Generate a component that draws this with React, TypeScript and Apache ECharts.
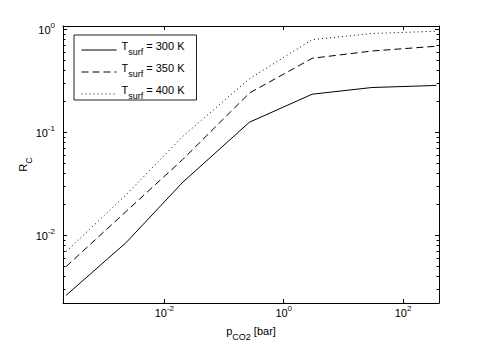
import React, { useEffect, useRef } from 'react';
import * as echarts from 'echarts';

// ---- data ----
const pressure = [2.25e-4, 2.3e-3, 0.0203, 0.266, 3.0, 30, 360];
const rc300 = [0.00262, 0.00857, 0.0329, 0.126, 0.236, 0.274, 0.287];
const rc350 = [0.00499, 0.0172, 0.0548, 0.242, 0.527, 0.62, 0.69];
const rc400 = [0.00697, 0.025, 0.0918, 0.333, 0.8, 0.917, 0.965];
const temperatures = ['300 K', '350 K', '400 K'];
const seriesNames = ['Tsurf = 300 K', 'Tsurf = 350 K', 'Tsurf = 400 K'];
const xRange = [2e-4, 400];
const yRange = [0.00221, 1.085];
const yMinorTicks = [
  0.003, 0.004, 0.005, 0.006, 0.007, 0.008, 0.009,
  0.02, 0.03, 0.04, 0.05, 0.06, 0.07, 0.08, 0.09,
  0.2, 0.3, 0.4, 0.5, 0.6, 0.7, 0.8, 0.9,
];

const FONT = '"Liberation Sans", Arial, Helvetica, sans-serif';

const supRich = {
  b: { fontSize: 11, lineHeight: 12, fontFamily: FONT, color: '#000', verticalAlign: 'bottom' },
  s: { fontSize: 8, lineHeight: 9, padding: [0, 0, 6, 0], fontFamily: FONT, color: '#000', verticalAlign: 'bottom' },
};
const subRich = {
  t: { fontSize: 11, lineHeight: 12, padding: [0, 0, 5, 0], fontFamily: FONT, color: '#000', verticalAlign: 'bottom' },
  sub: { fontSize: 9, lineHeight: 10, fontFamily: FONT, color: '#000', verticalAlign: 'bottom' },
};

function powLabel(v: number) {
  const l = Math.log10(v);
  const e = Math.round(l);
  if (Math.abs(l - e) > 1e-6) return '';
  return `{b|10}{s|${e}}`;
}

export default function App() {
  const ref = useRef<HTMLDivElement>(null);
  useEffect(() => {
    if (!ref.current) return;
    const chart = echarts.init(ref.current, null, { renderer: 'svg' });
    const axisLine = { show: true, lineStyle: { color: '#000', width: 1 } };
    const xBase = {
      type: 'log' as const,
      logBase: 100,
      min: xRange[0],
      max: xRange[1],
      axisLine,
      axisTick: { show: true, inside: true, length: 4, lineStyle: { color: '#000' } },
      splitLine: { show: false },
    };
    const yBase = {
      type: 'log' as const,
      logBase: 10,
      min: yRange[0],
      max: yRange[1],
      axisLine,
      axisTick: { show: true, inside: true, length: 4, lineStyle: { color: '#000' } },
      splitLine: { show: false },
    };
    const lineStyles: any[] = ['solid', [7, 4], [1, 3]];
    const values = [rc300, rc350, rc400];
    const option: any = {
      animation: false,
      grid: { left: 63, right: 46, top: 26, bottom: 41 },
      legend: {
        data: seriesNames,
        orient: 'vertical',
        left: 74,
        top: 35,
        padding: [5, 12, 0, 7],
        itemGap: 6,
        itemWidth: 35,
        itemHeight: 14,
        backgroundColor: '#fff',
        borderColor: '#222',
        borderWidth: 1,
        borderRadius: 0,
        selectedMode: false,
        itemStyle: { opacity: 0, borderWidth: 0, color: 'rgba(0,0,0,0)' },
        lineStyle: { width: 1 },
        textStyle: { fontFamily: FONT, fontSize: 11, color: '#000', rich: subRich },
        formatter: (name: string) => {
          const i = seriesNames.indexOf(name);
          return `{t|T}{sub|surf}{t| = ${temperatures[i]}}`;
        },
      },
      xAxis: [
        {
          ...xBase,
          position: 'bottom',
          name: '{t|p}{sub|CO2}{t| [bar]}',
          nameLocation: 'middle',
          nameGap: 26,
          nameMoveOverlap: false,
          nameTextStyle: { rich: subRich, fontFamily: FONT },
          axisLabel: {
            show: true,
            margin: 3,
            formatter: powLabel,
            showMinLabel: false,
            showMaxLabel: false,
            rich: supRich,
            fontFamily: FONT,
          },
        },
        { ...xBase, position: 'top', axisLabel: { show: false } },
      ],
      yAxis: [
        {
          ...yBase,
          position: 'left',
          name: '{t|R}{sub|C}',
          nameLocation: 'middle',
          nameGap: 30,
          nameMoveOverlap: false,
          nameTextStyle: { rich: subRich, fontFamily: FONT },
          axisLabel: {
            show: true,
            margin: 8,
            formatter: powLabel,
            showMinLabel: false,
            showMaxLabel: false,
            rich: supRich,
            fontFamily: FONT,
          },
        },
        { ...yBase, position: 'right', axisLabel: { show: false } },
      ],
      series: [
        ...seriesNames.map((name, k) => ({
          name,
          type: 'line',
          xAxisIndex: 0,
          yAxisIndex: 0,
          data: pressure.map((p, i) => [p, values[k][i]]),
          symbol: 'none',
          showSymbol: false,
          silent: true,
          color: '#000',
          lineStyle: { color: '#000', width: 1, type: lineStyles[k] },
        })),
        {
          type: 'custom',
          name: 'minorTicks',
          xAxisIndex: 0,
          yAxisIndex: 0,
          silent: true,
          data: yMinorTicks.map((v) => [1, v]),
          encode: { x: 0, y: 1 },
          renderItem: (params: any, api: any) => {
            const cs = params.coordSys;
            const yRaw = api.coord([1, api.value(1)])[1];
            const y = Math.round(yRaw - 0.5) + 0.5;
            const L = 2.5;
            const st = { stroke: '#000', lineWidth: 1 };
            return {
              type: 'group',
              children: [
                { type: 'line', shape: { x1: cs.x, y1: y, x2: cs.x + L, y2: y }, style: st },
                { type: 'line', shape: { x1: cs.x + cs.width, y1: y, x2: cs.x + cs.width - L, y2: y }, style: st },
              ],
            };
          },
        },
      ],
    };
    chart.setOption(option);
    return () => chart.dispose();
  }, []);
  return (
    <div
      ref={ref}
      style={{ position: 'fixed', left: 0, top: 0, width: 485, height: 346, background: '#fff' }}
    />
  );
}
